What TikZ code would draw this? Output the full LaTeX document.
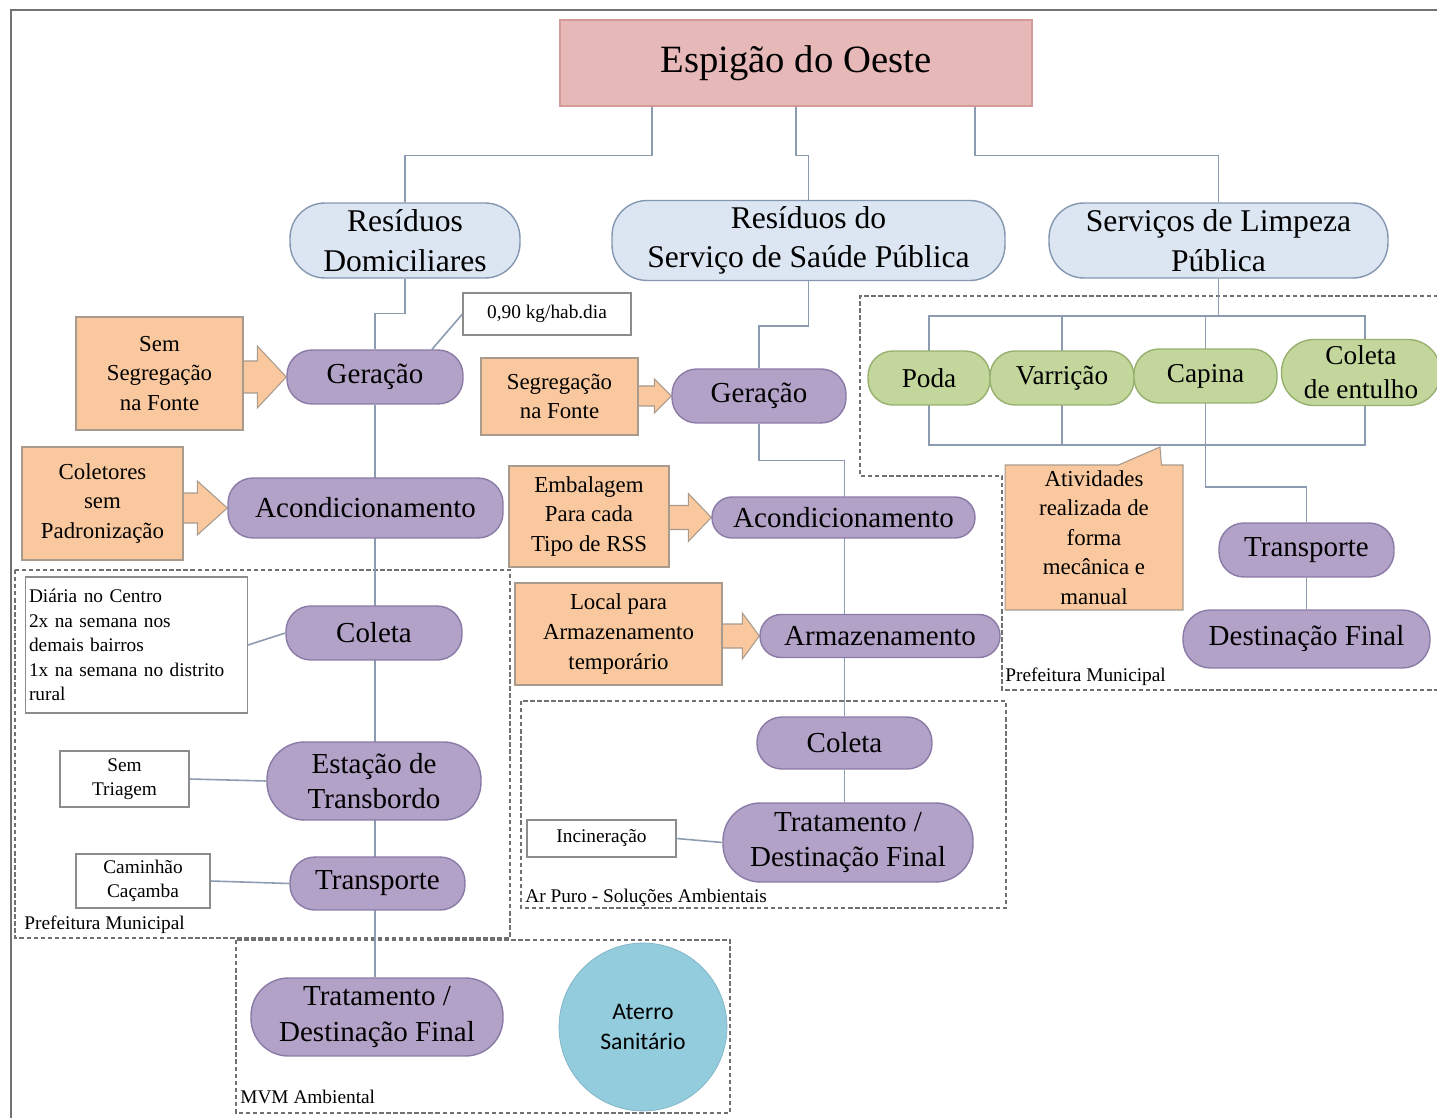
\documentclass[tikz,border=0pt]{standalone}
\usepackage{fontspec}
\setmainfont{Liberation Serif}
\newfontfamily\carlito{Carlito}
\usetikzlibrary{positioning,calc,backgrounds,shapes.callouts}
\definecolor{titfill}{HTML}{E6B9B8}
\definecolor{titline}{HTML}{D49A98}
\definecolor{grpfill}{HTML}{DCE6F2}
\definecolor{grpline}{HTML}{8497B0}
\definecolor{etafill}{HTML}{B3A2C7}
\definecolor{etaline}{HTML}{8A7BA6}
\definecolor{orfill}{HTML}{FAC89E}
\definecolor{orline}{HTML}{A89A8C}
\definecolor{grnfill}{HTML}{C3D69B}
\definecolor{grnline}{HTML}{98B06F}
\definecolor{notline}{HTML}{8C8C8C}
\definecolor{ligcol}{HTML}{8C9BB0}
\definecolor{arealine}{HTML}{707070}
\definecolor{atefill}{HTML}{93CDDD}
\definecolor{ateline}{HTML}{7FB3C5}
\tikzset{
    titulo/.style={rectangle, draw=titline, fill=titfill, line width=0.8pt, minimum width=9.44cm, minimum height=1.72cm, font=\fontsize{22}{26}\selectfont},
    grupo/.style={rectangle, rounded corners=0.7cm, draw=grpline, fill=grpfill, line width=0.8pt, align=center, minimum height=1.5cm, font=\fontsize{18}{22.5}\selectfont},
    etapa/.style={rectangle, rounded corners=0.5cm, draw=etaline, fill=etafill, line width=0.8pt, align=center, minimum height=1.08cm, inner sep=1pt, font=\fontsize{16.5}{20}\selectfont},
    servico/.style={rectangle, rounded corners=0.5cm, draw=grnline, fill=grnfill, line width=0.8pt, align=center, minimum height=1.08cm, inner sep=1pt, font=\fontsize{15.5}{19.5}\selectfont},
    fonte/.style={rectangle, draw=orline, fill=orfill, line width=0.6pt, align=center, inner sep=1pt, font=\fontsize{13}{16.8}\selectfont},
    nota/.style={rectangle, draw=notline, fill=white, line width=0.6pt, align=center, inner sep=2pt, font=\fontsize{11}{14}\selectfont},
    area/.style={draw=arealine, line width=0.7pt, dash pattern=on 2.5pt off 1.5pt},
    rotulo/.style={inner sep=0pt, font=\fontsize{11}{13}\selectfont},
    lig/.style={draw=ligcol, line width=0.9pt},
    seta/.style={draw=orline, fill=orfill, line width=0.6pt},
    moldura/.style={draw=black!55, line width=1.1pt},
    aterro/.style={circle, draw=ateline, fill=atefill, align=center, minimum size=3.36cm, font=\carlito\fontsize{13.5}{17}\selectfont}
}
% block arrow: box, target, head length, half shaft, half head
\newcommand{\blocoseta}[5]{%
    \filldraw[seta] ($(#1.east |- #2.west)+(0,-#4)$) -- ($(#2.west)+(-#3,-#4)$) -- ($(#2.west)+(-#3,-#5)$) -- (#2.west)
        -- ($(#2.west)+(-#3,#5)$) -- ($(#2.west)+(-#3,#4)$) -- ($(#1.east |- #2.west)+(0,#4)$);
}

\begin{document}
\begin{tikzpicture}[x=0.02cm, y=-0.02cm]
    \useasboundingbox (0,0) rectangle (1437,1118);
    \draw[moldura] (11,1125) -- (11,10) -- (1445,10);

    % topo
    \node[titulo] (tit) at (796,63) {Espigão do Oeste};
    \node[grupo, minimum width=4.6cm] (rd) at (405,240.5) {Resíduos\\Domiciliares};
    \node[grupo, minimum width=7.86cm] (rs) at (808.5,240.5) {Resíduos do\\Serviço de Saúde Pública};
    \node[grupo, minimum width=6.78cm] (sl) at (1218.5,240.5) {Serviços de Limpeza\\Pública};

    % residuos domiciliares
    \node[etapa, minimum width=3.52cm] (ger1) at (375,377) {Geração};
    \node[etapa, minimum width=5.5cm, minimum height=1.2cm] (aco1) at (365.5,508) {Acondicionamento};
    \node[etapa, minimum width=3.52cm] (col1) at (374,633) {Coleta};
    \node[etapa, minimum width=4.28cm, minimum height=1.56cm, rounded corners=0.75cm] (est1) at (374,781) {Estação de\\Transbordo};
    \node[etapa, minimum width=3.5cm, minimum height=1.06cm] (tra1) at (377.5,883.5) {Transporte};
    \node[etapa, minimum width=5.04cm, minimum height=1.56cm, rounded corners=0.75cm] (des1) at (377,1017) {Tratamento /\\Destinação Final};

    \node[fonte, minimum width=3.34cm, minimum height=2.26cm] (sf1) at (159.5,373.5) {Sem\\Segregação\\na Fonte};
    \node[fonte, minimum width=3.22cm, minimum height=2.26cm] (cp1) at (102.5,503.5) {Coletores\\sem\\Padronização};
    \node[nota, minimum width=3.36cm, minimum height=0.84cm] (kg) at (547,314) {0,90 kg/hab.dia};
    \node[nota, align=left, text width=4.3cm, minimum height=2.72cm] (dia) at (136.5,645) {Diária no Centro\\2x na semana nos\\demais bairros\\1x na semana no distrito\\rural};
    \node[nota, minimum width=2.58cm, minimum height=1.12cm] (tri) at (124.5,779) {Sem\\Triagem};
    \node[nota, minimum width=2.68cm, minimum height=1.08cm] (cam) at (143,881) {Caminhão\\Caçamba};
    \node[aterro] (ate) at (643,1027) {Aterro\\Sanitário};

    % saude publica
    \node[etapa, minimum width=3.48cm] (ger2) at (759,396) {Geração};
    \node[etapa, minimum width=5.26cm, minimum height=0.82cm, rounded corners=0.4cm] (aco2) at (843.5,517.5) {Acondicionamento};
    \node[etapa, minimum width=4.8cm, minimum height=0.86cm, rounded corners=0.42cm] (arm2) at (880,636) {Armazenamento};
    \node[etapa, minimum width=3.5cm, minimum height=1.04cm] (col2) at (844.5,743) {Coleta};
    \node[etapa, minimum width=5.0cm, minimum height=1.58cm, rounded corners=0.75cm] (tra2) at (848,842.5) {Tratamento /\\Destinação Final};

    \node[fonte, minimum width=3.14cm, minimum height=1.54cm] (sf2) at (559.5,396.5) {Segregação\\na Fonte};
    \node[fonte, minimum width=3.2cm, minimum height=2.02cm] (emb) at (589,516.5) {Embalagem\\Para cada\\Tipo de RSS};
    \node[fonte, minimum width=4.14cm, minimum height=2.04cm] (loc) at (618.5,634) {Local para\\Armazenamento\\temporário};
    \node[nota, minimum width=2.98cm, minimum height=0.74cm] (inc) at (601.5,838.5) {Incineração};

    % limpeza publica
    \node[servico, minimum width=2.44cm] (poda) at (929,378) {Poda};
    \node[servico, minimum width=2.88cm] (varr) at (1062,378) {Varrição};
    \node[servico, minimum width=2.86cm] (capi) at (1205.5,376) {Capina};
    \node[servico, minimum width=3.18cm, minimum height=1.32cm, rounded corners=0.65cm] (entu) at (1361,372.5) {Coleta\\de entulho};
    \node[etapa, minimum width=3.5cm] (tra3) at (1306.5,550) {Transporte};
    \node[etapa, minimum width=4.94cm, minimum height=1.16cm, rounded corners=0.55cm] (des3) at (1306.5,639) {Destinação Final};
    \node[fonte, rectangle callout, callout absolute pointer={(1160,447)}, callout pointer width=0.86cm,
          minimum width=3.56cm, minimum height=2.9cm] (ati) at (1094,537.5) {Atividades\\realizada de\\forma\\mecânica e\\manual};

    % nomes das areas
    \node[rotulo, anchor=base west] (pm1) at (24,929) {Prefeitura Municipal};
    \node[rotulo, anchor=base west] (arp) at (525,902) {Ar Puro - Soluções Ambientais};
    \node[rotulo, anchor=base west] (mvm) at (240,1103) {MVM Ambiental};
    \node[rotulo, anchor=base west] (pm2) at (1005,681) {Prefeitura Municipal};

    \coordinate (bsup) at (0,316);
    \coordinate (binf) at (0,445);

    \begin{scope}[on background layer]
        \draw[area] (15,570) rectangle (510,938);
        \draw[area] (521,701) rectangle (1006,908);
        \draw[area] (236,940) rectangle (730,1113);
        \draw[area] (1445,296) -- (860,296) -- (860,476) -- (1002,476) -- (1002,690) -- (1445,690);

        \draw[lig] ($(tit.south)+(-144,0)$) -- ++(0,49) -| (rd.north);
        \draw[lig] (tit.south) -- ++(0,49) -| (rs.north);
        \draw[lig] ($(tit.south)+(179,0)$) -- ++(0,49) -| (sl.north);

        \draw[lig] (rd.south) -- ++(0,35) -| (ger1.north);
        \draw[lig] (ger1.south) -- (ger1.south |- des1.north);

        \draw[lig] (rs.south) -- ++(0,45) -| (ger2.north);
        \draw[lig] (ger2.south) -- ++(0,37) -| (col2.north);
        \draw[lig] (col2.south) -- (col2.south |- tra2.north);

        \draw[lig] (sl.south) -- (sl.south |- bsup);
        \draw[lig] (poda |- bsup) -- (1365,316) -- (1365,445) -- (poda |- binf) -- cycle;
        \draw[lig] (varr |- bsup) -- (varr |- binf);
        \draw[lig] (capi |- bsup) -- (capi |- binf) -- ++(0,42) -| (tra3.north);
        \draw[lig] (tra3.south) -- (des3.north);

        \blocoseta{sf1}{ger1}{29}{16}{31}
        \blocoseta{cp1}{aco1}{30}{15}{27}
        \blocoseta{sf2}{ger2}{17}{10}{17}
        \blocoseta{emb}{aco2}{23}{12}{24}
        \blocoseta{loc}{arm2}{17}{12}{23}
    \end{scope}

    \draw[lig] (kg.west) -- ($(ger1.north)+(57,0)$);
    \draw[lig] (dia.east) -- (col1.west);
    \draw[lig] (tri.east) -- (est1.west);
    \draw[lig] (cam.east) -- (tra1.west);
    \draw[lig] (inc.east) -- (tra2.west);
\end{tikzpicture}
\end{document}
